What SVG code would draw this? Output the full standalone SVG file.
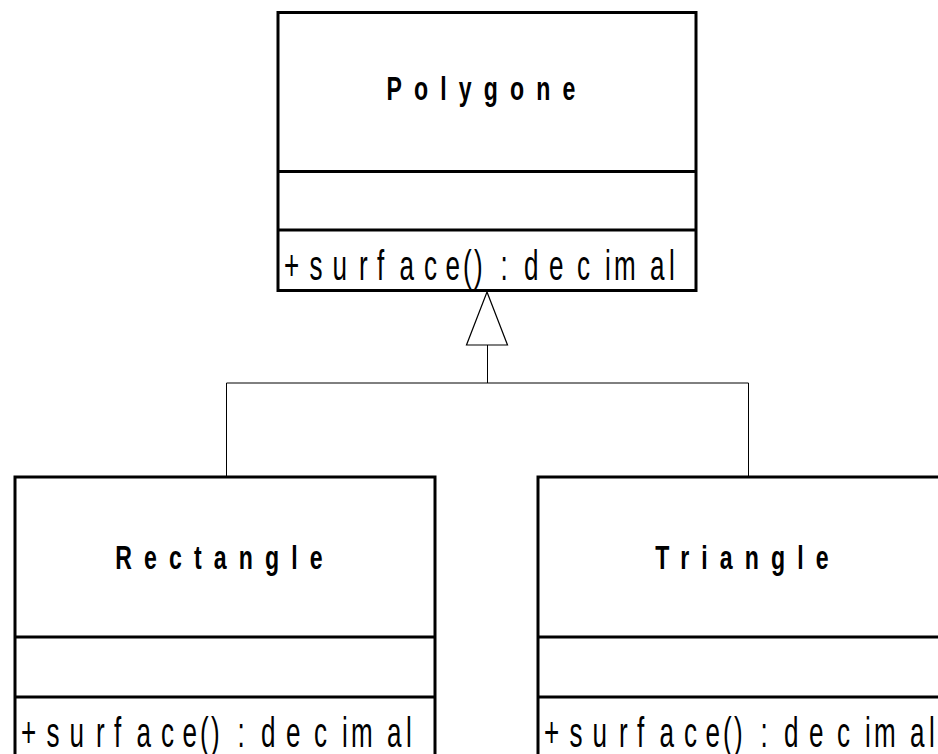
<svg xmlns="http://www.w3.org/2000/svg" width="938" height="754" viewBox="0 0 938 754">
  <style>
    .box { fill: #ffffff; stroke: #000000; stroke-width: 3; }
    .sep { stroke: #000000; stroke-width: 3; }
    .title { font-family: "Liberation Sans", Arial, sans-serif; font-weight: bold; font-size: 33px; letter-spacing: 17.3px; text-anchor: middle; fill: #000000; }
    .op { font-family: "Liberation Sans", Arial, sans-serif; font-size: 42px; fill: #000000; }
    .link { fill: none; stroke: #000000; stroke-width: 1; }
    .head { fill: #ffffff; stroke: #000000; stroke-width: 1.2; }
  </style>

  <rect width="938" height="754" fill="#ffffff"/>

  <!-- generalization: children joined to the parent by one open-headed arrow -->
  <g id="connectors">
    <polyline class="link" points="226.5,477 226.5,383 748.5,383 748.5,477"/>
    <line class="link" x1="487.5" y1="345" x2="487.5" y2="383"/>
    <polygon class="head" points="487,292 466.5,345 507.5,345"/>
  </g>

  <g id="polygone">
    <rect class="box" x="278" y="12.5" width="418" height="278"/>
    <line class="sep" x1="278" y1="171.5" x2="696" y2="171.5"/>
    <line class="sep" x1="278" y1="230" x2="696" y2="230"/>
    <text class="title" transform="translate(487,100) scale(0.7,1)" x="0" y="0">Polygone</text>
    <text class="op" transform="translate(278,280) scale(0.62,1)" x="9.7 50.8 87.9 130.6 159.7 196 235.5 270.2 298.4 316.1 358.9 396.8 437.1 482.3 527.4 541.9 600 630.6" y="0">+surface():decimal</text>
  </g>

  <g id="rectangle">
    <rect class="box" x="15" y="477" width="420" height="300"/>
    <line class="sep" x1="15" y1="637" x2="435" y2="637"/>
    <line class="sep" x1="15" y1="697" x2="435" y2="697"/>
    <text class="title" transform="translate(225,569) scale(0.7,1)" x="0" y="0">Rectangle</text>
    <text class="op" transform="translate(15,747) scale(0.62,1)" x="9.7 50.8 87.9 130.6 159.7 196 235.5 270.2 298.4 316.1 358.9 396.8 437.1 482.3 527.4 541.9 600 630.6" y="0">+surface():decimal</text>
  </g>

  <g id="triangle">
    <rect class="box" x="538" y="477" width="420" height="300"/>
    <line class="sep" x1="538" y1="637" x2="958" y2="637"/>
    <line class="sep" x1="538" y1="697" x2="958" y2="697"/>
    <text class="title" transform="translate(748,569) scale(0.7,1)" x="0" y="0">Triangle</text>
    <text class="op" transform="translate(538,747) scale(0.62,1)" x="9.7 50.8 87.9 130.6 159.7 196 235.5 270.2 298.4 316.1 358.9 396.8 437.1 482.3 527.4 541.9 600 630.6" y="0">+surface():decimal</text>
  </g>
</svg>
